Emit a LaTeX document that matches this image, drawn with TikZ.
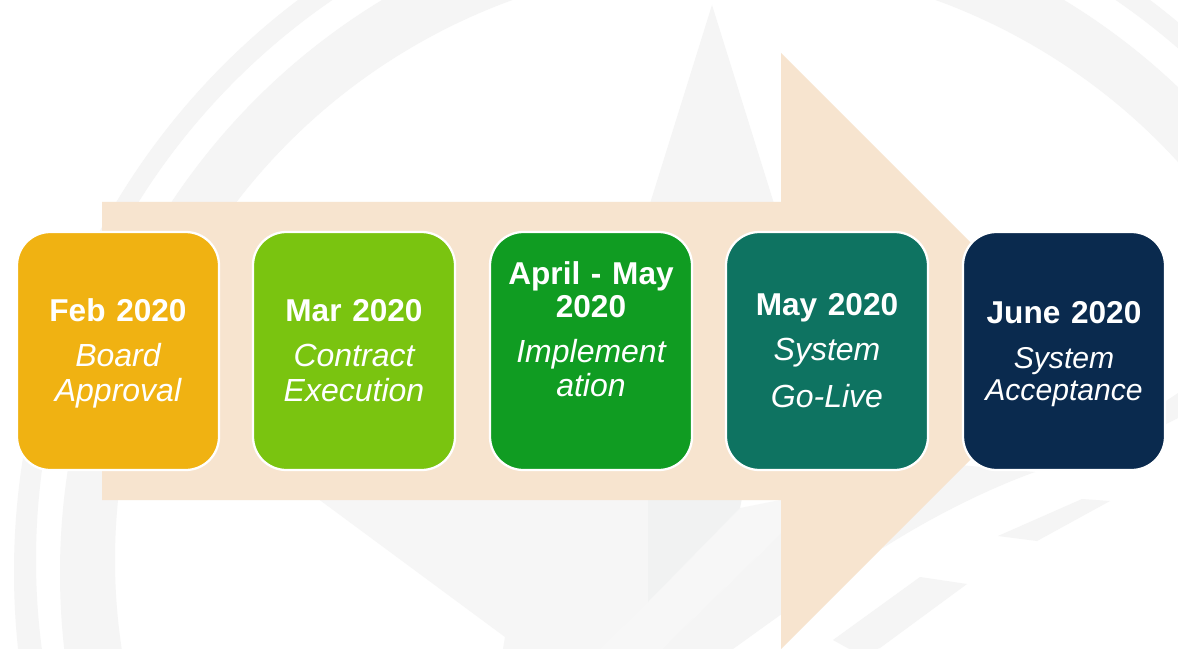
\documentclass[tikz,border=0pt]{standalone}
\usepackage{fontspec}
\setmainfont{Liberation Sans}
\definecolor{wmring}{HTML}{F5F5F5}
\definecolor{wmlight}{HTML}{F6F6F6}
\definecolor{wmpale}{HTML}{F7F7F7}
\definecolor{wmdark}{HTML}{F1F2F2}
\definecolor{arrowfill}{HTML}{F7E4CF}
\definecolor{boxa}{HTML}{F0B212}
\definecolor{boxb}{HTML}{7AC410}
\definecolor{boxc}{HTML}{109C22}
\definecolor{boxd}{HTML}{0E7361}
\definecolor{boxe}{HTML}{0A2A4E}
\setlength{\normallineskip}{0pt}
\setlength{\normallineskiplimit}{0pt}
\setlength{\lineskip}{0pt}
\setlength{\lineskiplimit}{0pt}
% one line of a box: room above and below the baseline (px), then the text
\newlength{\tlup}\newlength{\tldn}
\newcommand{\tline}[3]{\setlength{\tlup}{#1pt}\setlength{\tldn}{#2pt}\tlup=0.75\tlup \tldn=0.75\tldn
  \vrule width 0pt height\tlup depth\tldn\relax #3}
\newcommand{\stagehd}[1]{{\fontsize{23.7}{0}\selectfont\bfseries #1}}
\newcommand{\stagesub}[1]{{\fontsize{24}{0}\selectfont\itshape #1}}
\newcommand{\stagesubs}[1]{{\fontsize{22.6}{0}\selectfont\itshape #1}}
\newcommand{\stagefont}{\fontsize{24}{0}\selectfont}
\tikzset{
  x=0.75pt, y=-0.75pt,
  stagebox/.style={rounded corners=25pt, draw=white, line width=1.7pt, text=white,
    minimum width=151.5pt, minimum height=178.5pt, inner sep=0pt, outer sep=0pt,
    text width=150pt, align=center, font=\stagefont},
  wm/.style={draw=none, fill=wmring},
}
\begin{document}
\begin{tikzpicture}
\useasboundingbox (0,0) rectangle (1178,649);
\fill[white] (0,0) rectangle (1178,649);
\begin{scope}
\clip (0,0) rectangle (1178,649);
% watermark rings
\fill[wmring, even odd rule] (724,572) ellipse [x radius=710, y radius=715]
      (724,560) ellipse [x radius=688, y radius=681];
\fill[wmring, even odd rule] (723,573) ellipse [x radius=663, y radius=668]
      (724,560) ellipse [x radius=609, y radius=597];
% watermark needle and lower shapes
\fill[wm] (712,5) -- (648,210) -- (776,210) -- cycle;
\fill[wmlight] (317,498) -- (505,637) -- (503,649) -- (648,649) -- (648,498) -- cycle;
\fill[wmpale] (648,602) -- (740,508) -- (790,498) -- (790,525) -- (662,649) -- (600,649) -- cycle;
\fill[wmdark] (648,498) -- (742,498) -- (740,508) -- (648,602) -- cycle;
\fill[wmring] (662,649) -- (790,525) -- (790,608) -- (733,649) -- cycle;
\fill[wm] (998,536) -- (1082,499) -- (1110,501) -- (1037,541) -- cycle;
\fill[wm] (833,640) -- (920,577) -- (967,584) -- (880,648) -- (860,655) -- cycle;
\fill[wm] (960,465) -- (1035,472) .. controls (985,490) and (930,518) .. (883,548) -- cycle;
\fill[wm] (1160,405) -- (1178,393) -- (1178,418) -- (1160,427) -- cycle;
\end{scope}
% big arrow
\fill[arrowfill] (102,202) -- (781,202) -- (781,53) -- (1079,351) -- (781,649) -- (781,500) -- (102,500) -- cycle;
% stages
\node[stagebox, fill=boxa] (feb) at (118,351) {\tline{89}{20}{\stagehd{Feb 2020}}\\ \tline{25}{10}{\stagesub{Board}}\\ \tline{25}{69}{\stagesub{Approval}}};
\node[stagebox, fill=boxb] (mar) at (354,351) {\tline{89}{20}{\stagehd{Mar 2020}}\\ \tline{25}{10}{\stagesub{Contract}}\\ \tline{25}{69}{\stagesub{Execution}}};
\node[stagebox, fill=boxc] (apr) at (591,351) {\tline{52}{8}{\stagehd{April - May}}\\ \tline{25}{20}{\stagehd{2020}}\\ \tline{25}{9}{\stagesub{Implement}}\\ \tline{25}{74}{\stagesub{ation}}};
\node[stagebox, fill=boxd] (may) at (827,351) {\tline{83}{20}{\stagehd{May 2020}}\\ \tline{25}{22}{\stagesub{System}}\\ \tline{25}{63}{\stagesub{Go-Live}}};
\node[stagebox, fill=boxe] (jun) at (1064,351) {\tline{91}{20}{\stagehd{June 2020}}\\ \tline{25}{7}{\stagesubs{System}}\\ \tline{25}{70}{\stagesubs{Acceptance}}};
\end{tikzpicture}
\end{document}
